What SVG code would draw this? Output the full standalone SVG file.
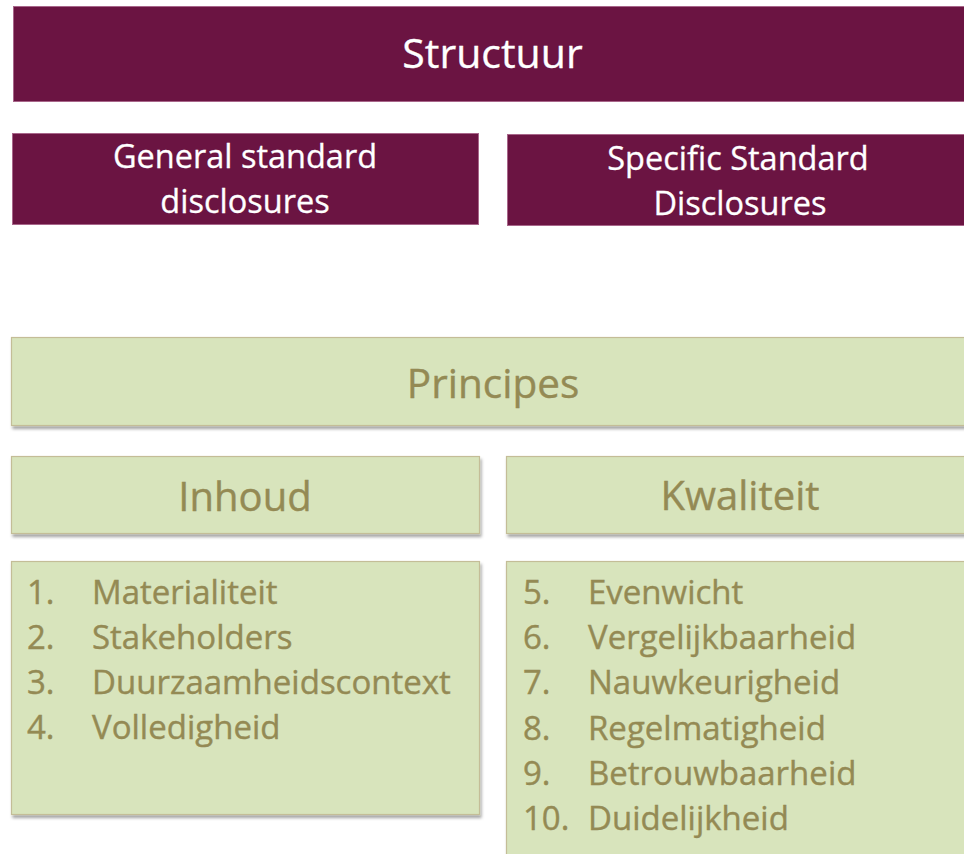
<svg xmlns="http://www.w3.org/2000/svg" width="964" height="854" viewBox="0 0 964 854">
  <defs>
    <filter id="shadow" x="-5%" y="-10%" width="115%" height="130%">
      <feDropShadow dx="1.5" dy="3" stdDeviation="1.8" flood-color="#000" flood-opacity="0.35"/>
    </filter>
  </defs>
  <style>
    .maroon { fill: #6B1442; stroke: #A8668A; stroke-width: 1; }
    .green { fill: #D8E4BC; stroke: #C4BD97; stroke-width: 1.2; filter: url(#shadow); }
    .wt { fill: #FFFFFF; stroke: #FFFFFF; stroke-width: 0.3; font-family: "Open Sans", "Noto Sans", sans-serif; text-anchor: middle; }
    .gt { fill: #948A54; stroke: #948A54; stroke-width: 0.4; font-family: "Open Sans", "Noto Sans", sans-serif; }
    .mid { text-anchor: middle; }
  </style>
  <rect width="964" height="854" fill="#FFFFFF"/>

  <g id="structuur">
    <rect class="maroon" x="13.5" y="6.5" width="960" height="95"/>
    <text class="wt" x="492.5" y="68" font-size="41">Structuur</text>
  </g>

  <g id="general">
    <rect class="maroon" x="12.5" y="133.5" width="466" height="91"/>
    <text class="wt" x="245" y="168" font-size="32.5">General standard</text>
    <text class="wt" x="245" y="213" font-size="32.5">disclosures</text>
  </g>

  <g id="specific">
    <rect class="maroon" x="507.5" y="134.5" width="466" height="91"/>
    <text class="wt" x="738" y="170" font-size="32.5">Specific Standard</text>
    <text class="wt" x="740" y="215" font-size="32.5">Disclosures</text>
  </g>

  <g id="principes">
    <rect class="green" x="11.5" y="337.5" width="962" height="88"/>
    <text class="gt mid" x="493" y="398" font-size="40.5">Principes</text>
  </g>

  <g id="inhoud">
    <rect class="green" x="11.5" y="456.5" width="468" height="77"/>
    <text class="gt mid" x="245" y="511" font-size="40">Inhoud</text>
  </g>

  <g id="kwaliteit">
    <rect class="green" x="506.5" y="456.5" width="467" height="77"/>
    <text class="gt mid" x="740" y="510" font-size="40">Kwaliteit</text>
  </g>

  <g id="inhoud-lijst">
    <rect class="green" x="11.5" y="561.5" width="468" height="253"/>
    <g font-size="33">
      <text class="gt" x="27" y="604">1.</text>
      <text class="gt" x="92" y="604">Materialiteit</text>
      <text class="gt" x="27" y="649">2.</text>
      <text class="gt" x="92" y="649">Stakeholders</text>
      <text class="gt" x="27" y="694">3.</text>
      <text class="gt" x="92" y="694">Duurzaamheidscontext</text>
      <text class="gt" x="27" y="739">4.</text>
      <text class="gt" x="92" y="739">Volledigheid</text>
    </g>
  </g>

  <g id="kwaliteit-lijst">
    <rect class="green" x="506.5" y="561.5" width="467" height="300"/>
    <g font-size="33">
      <text class="gt" x="523" y="604">5.</text>
      <text class="gt" x="588" y="604">Evenwicht</text>
      <text class="gt" x="523" y="649">6.</text>
      <text class="gt" x="588" y="649">Vergelijkbaarheid</text>
      <text class="gt" x="523" y="694">7.</text>
      <text class="gt" x="588" y="694">Nauwkeurigheid</text>
      <text class="gt" x="523" y="740">8.</text>
      <text class="gt" x="588" y="740">Regelmatigheid</text>
      <text class="gt" x="523" y="785">9.</text>
      <text class="gt" x="588" y="785">Betrouwbaarheid</text>
      <text class="gt" x="523" y="830">10.</text>
      <text class="gt" x="588" y="830">Duidelijkheid</text>
    </g>
  </g>

  <g id="connectors"></g>
</svg>
